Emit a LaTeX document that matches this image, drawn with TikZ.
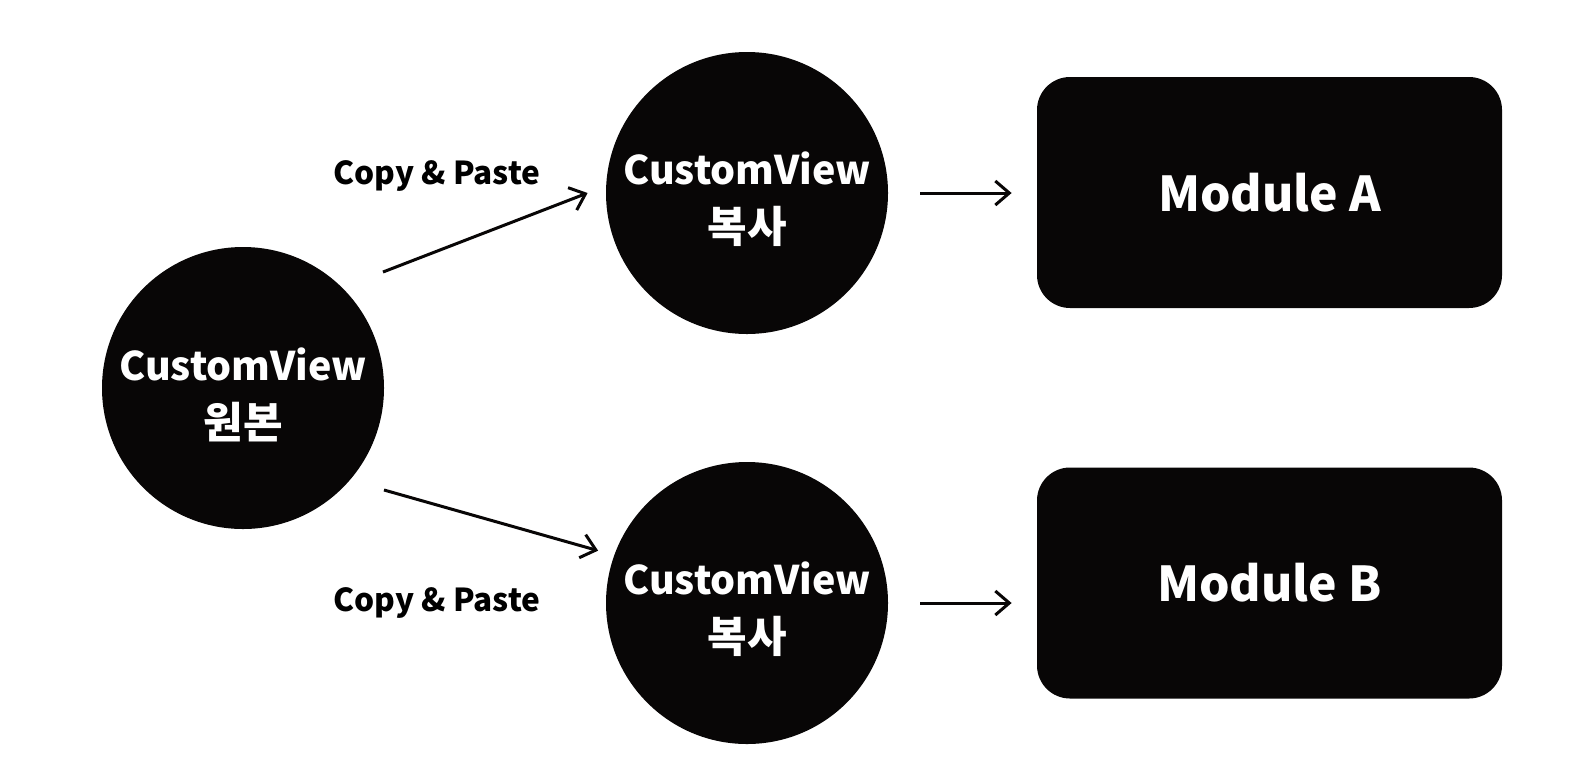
\documentclass[tikz,border=0pt]{standalone}
\usepackage{fontspec}
\setmainfont{Noto Sans CJK KR}
\usetikzlibrary{arrows.meta,positioning,calc}
\definecolor{ink}{HTML}{080606}
\newcommand{\hangul}[1]{{\fontsize{21.5}{29}\selectfont #1}}
\newcommand{\topgap}{\rule{0pt}{23pt}}

\begin{document}
\begin{tikzpicture}[x=0.5pt,y=-0.5pt]
	\tikzstyle{view}
	  =[circle, fill=ink, text=white, minimum size=141pt, inner sep=0pt,
	  align=center, font=\bfseries\fontsize{19.7}{29}\selectfont]
	\tikzstyle{module}
	  =[rectangle, rounded corners=16.5pt, fill=ink, text=white,
	  minimum width=232.5pt, minimum height=115.5pt,
	  font=\bfseries\fontsize{24}{30}\selectfont]
	\tikzstyle{pastelabel}
	  =[font=\bfseries\fontsize{15.8}{20}\selectfont, anchor=base, inner sep=0pt]
	\tikzstyle{arr}
	  =[-{Straight Barb[length=7pt,width=12pt]}, line width=1.5pt, draw=ink]

	\useasboundingbox (0,0) rectangle (1588,772);

	\node[view] (orig)
	  at (243,388) {\topgap CustomView\\\hangul{원본}};
	\node[view] (copyA)
	  at (747,193) {\topgap CustomView\\\hangul{복사}};
	\node[view] (copyB)
	  at (747,603) {\topgap CustomView\\\hangul{복사}};

	\node[module] (modA)
	  at (1269.5,192.5) {Module A};
	\node[module] (modB)
	  at (1269.5,583) {Module B};

	\node[pastelabel] (pasteA)
	  at (437,184) {Copy \& Paste};
	\node[pastelabel] (pasteB)
	  at (437,611) {Copy \& Paste};

	% copies of the original view
	\draw[arr] ([shift={(20pt,8pt)}]orig.north east)
	  -- ([xshift=-9pt]copyA.west);
	\draw[arr] ([shift={(20.5pt,-1pt)}]orig.south east)
	  -- ([shift={(-8pt,2pt)}]copyB.160);

	% each copy goes into its module
	\draw[arr] ([xshift=16pt]copyA.east)
	  -- ($(modA.west |- copyA.east)+(-12.5pt,0)$);
	\draw[arr] ([xshift=16pt]copyB.east)
	  -- ($(modB.west |- copyB.east)+(-12.5pt,0)$);
\end{tikzpicture}
\end{document}
